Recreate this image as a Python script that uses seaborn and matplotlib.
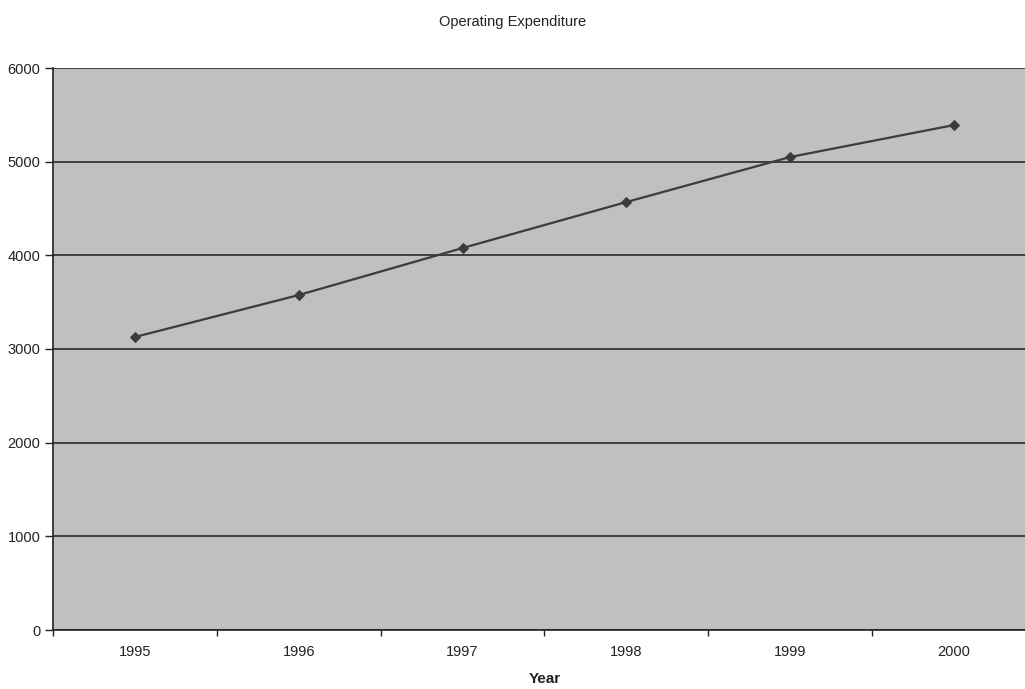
import matplotlib
matplotlib.use("Agg")
import matplotlib.pyplot as plt
import seaborn as sns
import pandas as pd
from matplotlib.ticker import FixedLocator, NullFormatter

years = ["1995", "1996", "1997", "1998", "1999", "2000"]
expenditure = [3128, 3576, 4078, 4569, 5050, 5391]
yticks = [0, 1000, 2000, 3000, 4000, 5000, 6000]

df = pd.DataFrame({"Year": years, "Expenditure": expenditure})

sns.set_style("white")
plt.rcParams["font.family"] = ["Liberation Sans", "DejaVu Sans"]

fig = plt.figure(figsize=(10.25, 6.89), dpi=100)
ax = fig.add_axes([53 / 1025, 59 / 689, 983 / 1025, 562 / 689])
ax.set_facecolor("#c0c0c0")

sns.lineplot(data=df, x="Year", y="Expenditure", ax=ax, color="#3c3c3c",
             marker="D", markersize=5, markeredgecolor="#3c3c3c", linewidth=1.6,
             sort=False)

ax.set_xlim(-0.5, len(years) - 0.5)
ax.set_ylim(0, 6000)
ax.set_yticks(yticks)
ax.set_yticklabels([str(v) for v in yticks])
ax.yaxis.grid(True, color="#2a2a2a", linewidth=1.2)
for line in ax.get_ygridlines():
    line.set_zorder(1)

ax.set_xticks(range(len(years)))
ax.set_xticklabels(years)
ax.xaxis.set_minor_locator(FixedLocator([i + 0.5 for i in range(-1, len(years))]))
ax.xaxis.set_minor_formatter(NullFormatter())
ax.tick_params(axis="x", which="both", bottom=True)
ax.tick_params(axis="x", which="major", length=0, pad=11, labelsize=10.5, colors="#222222")
ax.tick_params(axis="x", which="minor", length=4, width=1, color="#222222", direction="out")
ax.tick_params(axis="y", left=True, length=6, width=1, color="#222222", labelsize=10.5, pad=3,
               direction="out", labelcolor="#222222")

for s in ["top", "right"]:
    ax.spines[s].set_visible(False)
for s in ["left", "bottom"]:
    ax.spines[s].set_color("#222222")
    ax.spines[s].set_linewidth(1.2)

ax.set_xlabel("Year", fontsize=11, fontweight="bold", labelpad=9, color="#222222")
ax.set_ylabel("")
fig.text(0.5, 1 - 22 / 689, "Operating Expenditure", ha="center", va="center",
         fontsize=10.5, color="#222222")

fig.savefig("out.png", dpi=100)
